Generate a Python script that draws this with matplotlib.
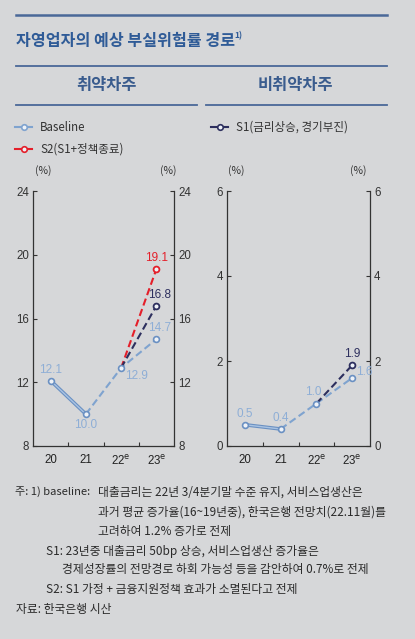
import numpy as np
import matplotlib.pyplot as plt
from matplotlib.lines import Line2D

plt.rcParams['font.family'] = ['Noto Sans CJK KR', 'DejaVu Sans']

# 데이터
years = ['20', '21', '22$^{\\mathrm{e}}$', '23$^{\\mathrm{e}}$']
vul_base = [12.1, 10.0, 12.9, 14.7]
vul_s1 = [np.nan, np.nan, 12.9, 16.8]
vul_s2 = [np.nan, np.nan, 12.9, 19.1]
non_base = [0.5, 0.4, 1.0, 1.6]
non_s1 = [np.nan, np.nan, 1.0, 1.9]

BG = '#d6d7d9'
C_BASE = '#7fa3cf'
C_BASE_TXT = '#8eaed6'
C_S1 = '#2d2f5e'
C_S2 = '#e41f2a'
C_RULE = '#4a6898'
C_HEAD = '#2f5b97'
NUM_FONT = ['Liberation Sans Narrow', 'Liberation Sans', 'DejaVu Sans']

W, H = 415, 639
fig = plt.figure(figsize=(W / 100, H / 100), dpi=100, facecolor=BG)


def fx(px):
    return px / W


def fy(py):
    return 1 - py / H


def hrule(x0, x1, y, lw=1.3):
    fig.add_artist(Line2D([fx(x0), fx(x1)], [fy(y), fy(y)], color=C_RULE, lw=lw))


# 머리 부분
hrule(16, 387, 15, lw=1.8)
fig.text(fx(16), fy(41), '자영업자의 예상 부실위험률 경로', fontsize=11.6,
         fontweight='bold', color=C_HEAD, va='center', ha='left')
fig.text(fx(234), fy(36), '1)', fontsize=6, fontweight='bold', color=C_HEAD,
         va='center', ha='left')
hrule(16, 387, 66)
fig.text(fx(107), fy(85), '취약차주', fontsize=11.8, fontweight='bold',
         color='#3a5c8e', va='center', ha='center')
fig.text(fx(295), fy(85), '비취약차주', fontsize=11.8, fontweight='bold',
         color='#3a5c8e', va='center', ha='center')
hrule(16, 197, 105)
hrule(206, 387, 105)


def setup(ax, ymin, ymax, step):
    ax.set_facecolor('none')
    ax.set_xlim(-0.5, 3.5)
    ax.set_ylim(ymin, ymax)
    ax.set_yticks(np.arange(ymin, ymax + 0.01, step))
    ax.set_xticks(range(4))
    ax.set_xticklabels(years)
    ax.set_xticks([0.5, 1.5, 2.5], minor=True)
    for s in ['left', 'right', 'bottom']:
        ax.spines[s].set_color('#333333')
        ax.spines[s].set_linewidth(0.9)
    ax.spines['top'].set_visible(False)
    ax.tick_params(axis='y', direction='in', left=True, right=True,
                   labelleft=True, labelright=True, length=3, width=0.8,
                   color='#333333', labelsize=8.3, labelcolor='#333333', pad=3)
    ax.tick_params(axis='x', which='major', length=0, labelsize=8.3,
                   labelcolor='#222222', pad=6)
    ax.tick_params(axis='x', which='minor', direction='in', length=3,
                   width=0.8, color='#333333')
    for lab in ax.get_xticklabels() + ax.get_yticklabels():
        lab.set_family(NUM_FONT)


def draw(ax, base, scen):
    x = np.arange(4)
    for vals, col in scen:
        ax.plot(x, vals, color=col, lw=1.5, ls=(0, (3.5, 1.8)), zorder=3)
        ax.plot(x[3], vals[3], 'o', ms=4.2, mfc='#eef2f8', mec=col, mew=1.3,
                zorder=5)
    ax.plot(x[:2], base[:2], color='#6a90c2', lw=2.6, zorder=3,
            solid_capstyle='round')
    ax.plot(x[:2], base[:2], color='#a9c3e3', lw=1.0, zorder=3)
    ax.plot(x[1:], base[1:], color=C_BASE, lw=1.5, ls=(0, (3.5, 1.8)), zorder=2)
    ax.plot(x, base, 'o', ms=4.2, mfc='#eef2f8', mec='#6a90c2', mew=1.2,
            zorder=4)


def label(ax, xi, v, col, dx, dy):
    ax.annotate(f'{v:.1f}', (xi, v), xytext=(dx, dy),
                textcoords='offset points', ha='center', va='center',
                fontsize=8.5, color=col, family=NUM_FONT)


# 취약차주
ax1 = fig.add_axes([fx(33), fy(446), fx(141), (446 - 191) / H])
setup(ax1, 8, 24, 4)
draw(ax1, vul_base, [(vul_s2, C_S2), (vul_s1, C_S1)])
label(ax1, 0, vul_base[0], C_BASE_TXT, 0, 8)
label(ax1, 1, vul_base[1], C_BASE_TXT, 0, -8)
label(ax1, 2, vul_base[2], C_BASE_TXT, 11, -6)
label(ax1, 3, vul_base[3], C_BASE_TXT, 2, 8)
label(ax1, 3, vul_s1[3], C_S1, 2, 8)
label(ax1, 3, vul_s2[3], C_S2, 0, 8)

# 비취약차주
ax2 = fig.add_axes([fx(227), fy(446), fx(143), (446 - 191) / H])
setup(ax2, 0, 6, 2)
draw(ax2, non_base, [(non_s1, C_S1)])
label(ax2, 0, non_base[0], C_BASE_TXT, 0, 8)
label(ax2, 1, non_base[1], C_BASE_TXT, 0, 8)
label(ax2, 2, non_base[2], C_BASE_TXT, -2, 8)
label(ax2, 3, non_base[3], C_BASE_TXT, 9, 4)
label(ax2, 3, non_s1[3], C_S1, 0, 8)

# 단위
for px in [43, 168, 236, 358]:
    fig.text(fx(px), fy(171), '(%)', fontsize=7.5, color='#333333',
             ha='center', va='center')

# 범례
h_base = Line2D([], [], color=C_BASE, lw=1.5, marker='o', ms=4, mfc='#eef2f8',
                mec=C_BASE, mew=1.2)
h_s2 = Line2D([], [], color=C_S2, lw=1.5, marker='o', ms=4, mfc='#eef2f8',
              mec=C_S2, mew=1.2)
h_s1 = Line2D([], [], color=C_S1, lw=1.5, marker='o', ms=4, mfc='#eef2f8',
              mec=C_S1, mew=1.2)
leg_kw = dict(frameon=False, fontsize=8.3, handlelength=1.5, handletextpad=0.7,
              labelspacing=0.75, borderaxespad=0, borderpad=0,
              labelcolor='#333333', loc='upper left')
fig.legend([h_base, h_s2], ['Baseline', 'S2(S1+정책종료)'],
           bbox_to_anchor=(fx(15), fy(121)), **leg_kw)
fig.legend([h_s1], ['S1(금리상승, 경기부진)'],
           bbox_to_anchor=(fx(211), fy(121)), **leg_kw)

# 주석
notes = [
    (15, 492, '주: 1) baseline:', 8.0),
    (98, 492, '대출금리는 22년 3/4분기말 수준 유지, 서비스업생산은', 8.5),
    (98, 512, '과거 평균 증가율(16~19년중), 한국은행 전망치(22.11월)를', 8.5),
    (98, 531, '고려하여 1.2% 증가로 전제', 8.5),
    (46, 551, 'S1: 23년중 대출금리 50bp 상승, 서비스업생산 증가율은', 8.5),
    (62, 570, '경제성장률의 전망경로 하회 가능성 등을 감안하여 0.7%로 전제', 8.5),
    (46, 590, 'S2: S1 가정 + 금융지원정책 효과가 소멸된다고 전제', 8.5),
    (16, 609, '자료: 한국은행 시산', 8.5),
]
for px, py, txt, fs in notes:
    fig.text(fx(px), fy(py), txt, fontsize=fs, color='#2a2a2a',
             ha='left', va='center')

fig.savefig('out.png', dpi=100, facecolor=BG)
